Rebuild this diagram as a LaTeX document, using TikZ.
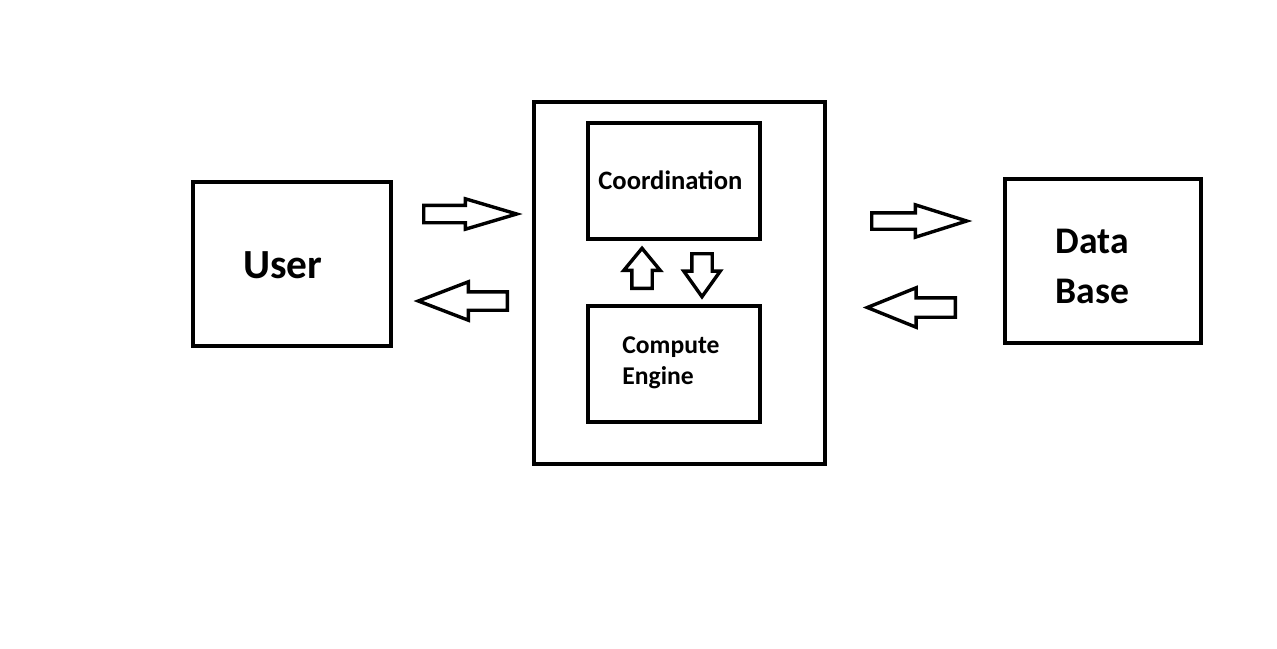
\documentclass[tikz,border=0pt]{standalone}
\usepackage{fontspec}
\setmainfont{Carlito}
\usetikzlibrary{shapes.arrows}

\tikzset{
  box/.style={rectangle, draw, line width=2pt, inner sep=0pt},
  innerbox/.style={rectangle, draw, line width=1.6pt, inner sep=0pt, minimum width=86pt, minimum height=58pt},
  fatarrow/.style={single arrow, draw, line width=1.7pt, inner sep=0pt, minimum width=0pt, anchor=tail},
  lbl/.style={inner sep=0pt, anchor=base west, align=left, font=\bfseries}
}

\begin{document}
\begin{tikzpicture}[x=0.5pt, y=-0.5pt]
    \useasboundingbox (0,0) rectangle (1277,648);
    % Boxes
    \node[box, minimum width=99pt, minimum height=82pt] (user) at (292,264) {};
    \node[box, line width=2.2pt, minimum width=145.5pt, minimum height=181pt] (server) at (679.5,283) {};
    \node[innerbox] (coord) at (674,181) {};
    \node[innerbox] (engine) at (674,364) {};
    \node[box, minimum width=98pt, minimum height=82pt] (db) at (1103,261) {};

    % Labels (base anchor sits on the last line)
    \node[lbl, font=\bfseries\fontsize{20.7}{24}\selectfont] (userlbl) at (243,278) {User};
    \node[lbl, font=\bfseries\fontsize{13.3}{16}\selectfont] (coordlbl) at (598,189) {Coordination};
    \node[lbl, font=\bfseries\fontsize{12.8}{15.5}\selectfont] (enginelbl) at (622,384) {Compute\\Engine};
    \node[lbl, font=\bfseries\fontsize{18.8}{25}\selectfont] (dblbl) at (1055,303) {Data\\Base};

    % Block arrows
    \node[fatarrow, minimum height=46.5pt, inner ysep=3.5pt, single arrow head extend=3.25pt, single arrow tip angle=33] (usertoserver) at (422,214) {};
    \node[fatarrow, shape border rotate=180, minimum height=44.5pt, inner ysep=3.75pt, single arrow head extend=5pt, single arrow tip angle=42] (servertouser) at (509,301) {};
    \node[fatarrow, minimum height=47.5pt, inner ysep=3.25pt, single arrow head extend=4pt, single arrow tip angle=35] (servertodb) at (870,221) {};
    \node[fatarrow, shape border rotate=180, minimum height=44pt, inner ysep=4pt, single arrow head extend=5pt, single arrow tip angle=44] (dbtoserver) at (957,307.5) {};
    \node[fatarrow, shape border rotate=90, minimum height=20pt, inner xsep=4.25pt, single arrow head extend=4pt, single arrow tip angle=79] (enginetocoord) at (642,290) {};
    \node[fatarrow, shape border rotate=270, minimum height=21.5pt, inner xsep=4.25pt, single arrow head extend=4pt, single arrow tip angle=71] (coordtoengine) at (702,252) {};
\end{tikzpicture}
\end{document}
